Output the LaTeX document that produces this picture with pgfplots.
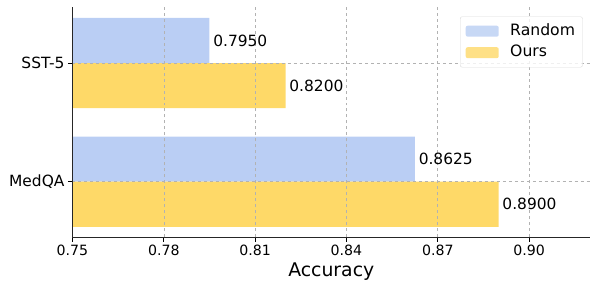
\documentclass[border=0pt]{standalone}
\usepackage{pgfplots}
\pgfplotsset{compat=1.18}
\usepackage{fontspec}
\setmainfont{DejaVu Sans}
\definecolor{cRandom}{RGB}{186,206,244}
\definecolor{cOurs}{RGB}{254,217,104}
\begin{document}
\begin{tikzpicture}
\useasboundingbox (-72.5bp,-53bp) rectangle (525.5bp,237bp);
\begin{axis}[
  at={(0,0)}, anchor=south west,
  scale only axis, width=517.5bp, height=230bp,
  xmin=0.75, xmax=0.92, ymin=-0.466, ymax=1.472,
  xtick={0.75,0.78,0.81,0.84,0.87,0.90},
  /pgf/number format/assume math mode=true,
  xticklabel style={font=\fontsize{14.2}{16}\selectfont, /pgf/number format/.cd, fixed, fixed zerofill, precision=2},
  ytick={0,1}, yticklabels={MedQA,SST-5},
  yticklabel style={font=\fontsize{15.5}{18}\selectfont},
  axis x line*=bottom, axis y line*=left,
  axis line style={line width=1bp, black!85},
  tick style={line width=0.8bp, black},
  tick align=outside, major tick length=4.5bp,
  xmajorgrids, ymajorgrids,
  grid style={dashed, gray!60, line width=0.6bp},
  axis on top,
  xlabel={Accuracy}, xlabel style={font=\fontsize{18.9}{22}\selectfont},
  xbar, bar width=0.38, bar shift=0pt,
  point meta=x,
  nodes near coords={\pgfmathprintnumber[fixed,fixed zerofill,precision=4,assume math mode=true]{\pgfplotspointmeta}},
  nodes near coords style={font=\fontsize{15.5}{18}\selectfont, anchor=west, inner sep=0pt, xshift=3.6bp, black},
  legend style={at={(1,1)}, anchor=north east, xshift=-7.3bp, yshift=-9.5bp,
    draw=black!15, rounded corners=2bp, fill=white, fill opacity=0.8, text opacity=1,
    font=\fontsize{15.7}{18}\selectfont, inner xsep=5.5bp, inner ysep=5bp,
    nodes={inner sep=2bp, text height=11.5bp, text depth=3.5bp},
    column sep=9.5bp, row sep=2.5bp},
  legend cell align=left,
  legend image code/.code={\fill[#1] (0bp,-5.5bp) rectangle (33bp,5.5bp);},
]
\addplot[draw=none, fill=cRandom] coordinates {(0.8625,0.19) (0.7950,1.19)};
\addlegendentry{Random}
\addplot[draw=none, fill=cOurs] coordinates {(0.8900,-0.19) (0.8200,0.81)};
\addlegendentry{Ours}
\end{axis}
\end{tikzpicture}
\end{document}
